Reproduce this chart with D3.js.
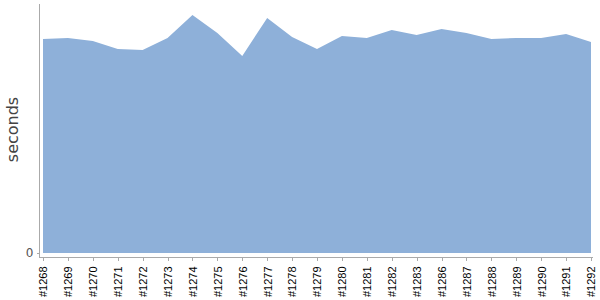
<!DOCTYPE html>
<head>
    <meta charset="utf-8">
    <script src="https://d3js.org/d3.v7.min.js"></script>
    <style>
        body { margin: 0; background: #fff; }
        .axis path, .axis line { stroke: #aaa; fill: none; shape-rendering: crispEdges; }
    </style>
</head>
<body>
    <svg id="svg" width="600" height="300"></svg>
    <script type="text/javascript">
    // build numbers along the x axis
    const builds = ["#1268", "#1269", "#1270", "#1271", "#1272", "#1273", "#1274", "#1275",
        "#1276", "#1277", "#1278", "#1279", "#1280", "#1281", "#1282", "#1283",
        "#1286", "#1287", "#1288", "#1289", "#1290", "#1291", "#1292"];
    // duration per build (seconds)
    const seconds = [214, 215, 212, 204, 203, 215, 238, 220, 197, 235, 216, 204,
        217, 215, 223, 218, 224, 220, 214, 215, 215, 219, 211];
    const yMax = 249;

    const svg = d3.select("#svg");
    const mLeft = 43, mRight = 591, mTop = 4, mBottom = 253;

    const x = d3.scalePoint().domain(builds).range([mLeft, mRight]);
    const y = d3.scaleLinear().domain([0, yMax]).range([mBottom, mTop]);

    const area = d3.area()
        .x(function (d, i) { return x(builds[i]); })
        .y0(y(0))
        .y1(function (d) { return y(d); });

    svg.append("path")
        .datum(seconds)
        .attr("fill", "#8eb0d9")
        .attr("d", area);

    // x axis, sitting a few pixels below the area
    const xAxis = svg.append("g")
        .attr("class", "axis")
        .attr("transform", "translate(0," + (mBottom + 4.5) + ")")
        .call(d3.axisBottom(x).tickSize(3).tickSizeOuter(0));
    xAxis.select(".domain").attr("d", "M" + (mLeft - 3.5) + ",0H" + (mRight + 2));
    xAxis.selectAll("text")
        .attr("transform", "rotate(-90)")
        .attr("x", -9)
        .attr("y", 0)
        .attr("dy", "0.35em")
        .style("text-anchor", "end")
        .style("font-family", "Liberation Sans, Arial, sans-serif")
        .style("font-size", "11px")
        .attr("fill", "#000");

    // y axis with only the zero tick
    const yAxis = svg.append("g")
        .attr("class", "axis")
        .attr("transform", "translate(" + (mLeft - 3.5) + ",0)")
        .call(d3.axisLeft(y).tickValues([0]).tickSize(3).tickSizeOuter(0));
    yAxis.select(".domain").attr("d", "M0," + mTop + "V" + (mBottom + 4.5));
    yAxis.selectAll("text")
        .attr("x", -6)
        .style("font-family", "DejaVu Sans, sans-serif")
        .style("font-size", "12px")
        .attr("fill", "#555");

    svg.append("text")
        .attr("transform", "translate(18," + 129.5 + ") rotate(-90)")
        .attr("text-anchor", "middle")
        .style("font-family", "DejaVu Sans, sans-serif")
        .style("font-size", "16px")
        .attr("fill", "#444")
        .text("seconds");
    </script>
</body>
